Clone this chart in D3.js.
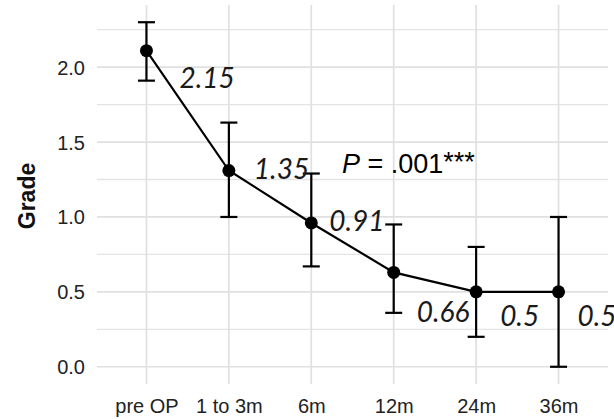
<!DOCTYPE html>
<html>
<head>
<meta charset="utf-8">
<script src="https://cdn.jsdelivr.net/npm/d3@7"></script>
<style>
  html, body { margin: 0; padding: 0; background: #fff; }
  svg { display: block; }
</style>
</head>
<body>
<svg id="chart" width="614" height="419"></svg>
<script>
// ---- data ----
const categories = ["pre OP", "1 to 3m", "6m", "12m", "24m", "36m"];
const means = [2.11, 1.31, 0.96, 0.63, 0.50, 0.50];
const upper = [2.30, 1.63, 1.29, 0.95, 0.80, 1.00];
const lower = [1.91, 1.00, 0.67, 0.36, 0.20, 0.00];
const valueLabels = ["2.15", "1.35", "0.91", "0.66", "0.5", "0.5"];
const majorTicks = [0.0, 0.5, 1.0, 1.5, 2.0];
const minorTicks = [0.25, 0.75, 1.25, 1.75, 2.25];
const pText = ".001";

// ---- layout ----
const W = 614, H = 419;
const panel = { left: 97, right: 608, top: 5, bottom: 384 };
// label offsets (px) relative to each point: [dx, dy]
const labelOffsets = [[33, 37], [25, 8], [18, 8], [23, 50], [24, 34], [19, 34]];

const svg = d3.select("#chart");
const x = d3.scalePoint().domain(categories).range([panel.left, panel.right]).padding(0.6);
const y = d3.scaleLinear().domain([-0.115, 2.415]).range([panel.bottom, panel.top]);

const grid = svg.append("g");
grid.selectAll("line.minor").data(minorTicks).join("line")
  .attr("x1", panel.left).attr("x2", panel.right)
  .attr("y1", d => y(d)).attr("y2", d => y(d))
  .attr("stroke", "#e4e4e4").attr("stroke-width", 1.3);
grid.selectAll("line.major").data(majorTicks).join("line")
  .attr("x1", panel.left).attr("x2", panel.right)
  .attr("y1", d => y(d)).attr("y2", d => y(d))
  .attr("stroke", "#e0e0e0").attr("stroke-width", 1.7);
grid.selectAll("line.vert").data(categories).join("line")
  .attr("x1", d => x(d)).attr("x2", d => x(d))
  .attr("y1", panel.top).attr("y2", panel.bottom)
  .attr("stroke", "#e0e0e0").attr("stroke-width", 1.7);

// axes (ggplot minimal: no lines, no ticks)
const yAxis = svg.append("g").attr("transform", `translate(${panel.left - 12},0)`)
  .call(d3.axisLeft(y).tickValues(majorTicks).tickFormat(d3.format(".1f")).tickSize(0).tickPadding(0));
yAxis.select(".domain").remove();
yAxis.selectAll("text").attr("font-family", "Liberation Sans, Arial, sans-serif")
  .attr("font-size", 20).attr("fill", "#222").attr("dy", "0.35em");

const xAxis = svg.append("g").attr("transform", `translate(0,${panel.bottom})`)
  .call(d3.axisBottom(x).tickSize(0).tickPadding(0));
xAxis.select(".domain").remove();
xAxis.selectAll("text").attr("font-family", "Liberation Sans, Arial, sans-serif")
  .attr("font-size", 20).attr("fill", "#222").attr("dy", null).attr("y", 29);

svg.append("text")
  .attr("transform", "translate(35,196) rotate(-90)")
  .attr("text-anchor", "middle")
  .attr("font-family", "Liberation Sans, Arial, sans-serif")
  .attr("font-size", 23).attr("font-weight", "bold").attr("fill", "#111")
  .text("Grade");

const data = categories.map((c, i) => ({ c, m: means[i], hi: upper[i], lo: lower[i], lab: valueLabels[i], off: labelOffsets[i] }));

// error bars
const eb = svg.append("g").attr("stroke", "#000").attr("stroke-width", 2.2);
eb.selectAll("line.v").data(data).join("line")
  .attr("x1", d => x(d.c)).attr("x2", d => x(d.c))
  .attr("y1", d => y(d.hi)).attr("y2", d => y(d.lo));
eb.selectAll("line.t").data(data).join("line")
  .attr("x1", d => x(d.c) - 8.5).attr("x2", d => x(d.c) + 8.5)
  .attr("y1", d => y(d.hi)).attr("y2", d => y(d.hi));
eb.selectAll("line.b").data(data).join("line")
  .attr("x1", d => x(d.c) - 8.5).attr("x2", d => x(d.c) + 8.5)
  .attr("y1", d => y(d.lo)).attr("y2", d => y(d.lo));

// mean line
svg.append("path").datum(data)
  .attr("d", d3.line().x(d => x(d.c)).y(d => y(d.m)))
  .attr("fill", "none").attr("stroke", "#000").attr("stroke-width", 2.2);

svg.selectAll("circle.pt").data(data).join("circle")
  .attr("cx", d => x(d.c)).attr("cy", d => y(d.m)).attr("r", 6.5).attr("fill", "#000");

// value labels
svg.selectAll("text.val").data(data).join("text")
  .attr("x", d => x(d.c) + d.off[0]).attr("y", d => y(d.m) + d.off[1])
  .attr("font-family", "Lato, 'Open Sans', sans-serif").attr("font-style", "italic")
  .attr("font-size", 28).attr("fill", "#1a1a1a")
  .text(d => d.lab);

// p value
const pt = svg.append("text").attr("x", 342).attr("y", 173)
  .attr("font-family", "Liberation Sans, Arial, sans-serif").attr("font-size", 27).attr("fill", "#000");
pt.append("tspan").attr("font-style", "italic").text("P");
pt.append("tspan").text(" = " + pText);
pt.append("tspan").attr("dy", -2).text("***");
</script>
</body>
</html>
